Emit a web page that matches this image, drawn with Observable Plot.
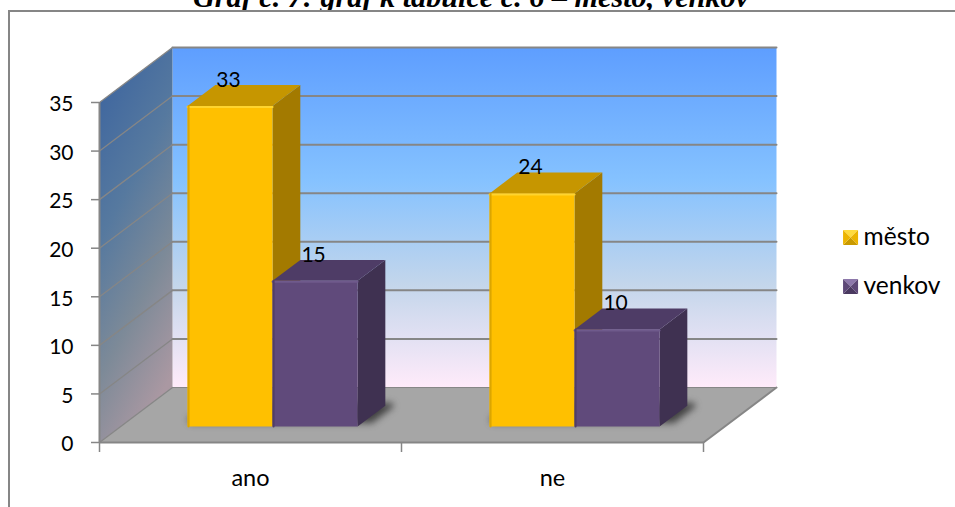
<!DOCTYPE html>
<html>
<head>
<meta charset="utf-8">
<script src="https://cdn.jsdelivr.net/npm/d3@7"></script>
<script src="https://cdn.jsdelivr.net/npm/@observablehq/plot@0.6"></script>
<style>
  html, body { margin: 0; padding: 0; background: #fff; overflow: hidden; width: 955px; height: 507px; }
  #frame { position: absolute; left: 8px; top: 10px; right: -4px; bottom: -4px; border: 2px solid #868686; z-index: 2; pointer-events: none; border-right: none; border-bottom: none; }
  #titleBox { position: absolute; left: 0; top: 0; width: 955px; height: 10px; overflow: hidden; }
  #title { position: absolute; left: 0; width: 942px; top: -20px; text-align: center; font: italic bold 30.2px "Liberation Serif", serif; color: #000; white-space: nowrap; }
  #chart { position: absolute; left: 0; top: 0; }
</style>
</head>
<body>
<div id="titleBox"><div id="title">Graf č. 7: graf k tabulce č. 6 – město, venkov</div></div>
<div id="chart"></div>
<div id="frame"></div>
<script>
const categories = ["ano", "ne"];
const seriesNames = ["město", "venkov"];
const mesto = [33, 24];
const venkov = [15, 10];
const yTicks = [0, 5, 10, 15, 20, 25, 30, 35];

const styles = [
  {front: "#ffc000", side: "#a37a00", top: "#c69600", hi: "#ffd42e", edge: "#dca600", lt: "#ffdb3d", dk: "#c99a00", mid: "#ecb400"},
  {front: "#604a7b", side: "#3f3151", top: "#4e3c66", hi: "#6f5a8c", edge: "#503d68", lt: "#8d78ab", dk: "#4a3960", mid: "#5d4877"}
];

// Oblique projection: a depth t in [0,1] moves a point right and up, in data units.
const DU = 73 / 302, DV = 5.66;
const at = (u, v, t) => [u + DU * t, v + DV * t];
const T0 = 0.29, T1 = 0.67, BW = 0.2815, CX = 0.503;

const poly = (pts, o) => Plot.line([...pts, pts[0]], {x: d => d[0], y: d => d[1], stroke: "none", curve: "linear-closed", ...o});

const defs = () => {
  const s = d3.create("svg:defs");
  const grad = (id, x1, y1, x2, y2, stops) => {
    const g = s.append("linearGradient").attr("id", id)
      .attr("x1", x1).attr("y1", y1).attr("x2", x2).attr("y2", y2);
    stops.forEach(([o, c]) => g.append("stop").attr("offset", o).attr("stop-color", c));
  };
  grad("backWall", 0, 0, 0, 1, [[0, "#5e9eff"], [0.39, "#85c2ff"], [0.7, "#c4d6eb"], [1, "#ffebfa"]]);
  grad("leftWall", 0.15, 0, 0.5, 1, [[0, "#3c649f"], [0.39, "#56799f"], [0.7, "#7d8a98"], [1, "#aa98a2"]]);
  return s.node();
};

const marks = [defs];

// walls and floor
marks.push(poly([at(0, 0, 1), at(2, 0, 1), at(2, 35, 1), at(0, 35, 1)], {fill: "url(#backWall)"}));
marks.push(poly([at(0, 0, 0), at(0, 0, 1), at(0, 35, 1), at(0, 35, 0)], {fill: "url(#leftWall)"}));
marks.push(poly([at(0, 0, 0), at(2, 0, 0), at(2, 0, 1), at(0, 0, 1)], {fill: "#a6a6a6"}));

// grid lines on the walls
yTicks.forEach(v => {
  marks.push(Plot.line([at(0, v, 1), at(2, v, 1)], {x: d => d[0], y: d => d[1], stroke: "#868686", strokeWidth: v === 0 ? 1 : 2}));
  marks.push(Plot.line([at(0, v, 0), at(0, v, 1)], {x: d => d[0], y: d => d[1], stroke: "#868686", strokeWidth: 1.3}));
});
marks.push(Plot.line([at(2, 0, 0), at(2, 0, 1)], {x: d => d[0], y: d => d[1], stroke: "#868686", strokeWidth: 2}));

// soft shadows below each cluster
categories.forEach((c, i) => {
  const a = i + CX - BW - 0.015, b = i + CX + BW + 0.015, t = T0 + 0.12;
  marks.push(poly([at(a, 0, t), at(b, 0, t), at(b, 0, T1), at(a, 0, T1)],
    {fill: "#333", stroke: "#333", strokeWidth: 8, fillOpacity: 0.8, strokeOpacity: 0.6, imageFilter: "blur(3px)"}));
});

// axes
marks.push(Plot.ruleX([0], {y1: 0, y2: 35, stroke: "#868686", strokeWidth: 2}));
marks.push(Plot.ruleY([0], {x1: 0, x2: 2, stroke: "#868686", strokeWidth: 2}));
marks.push(Plot.axisY({ticks: yTicks, tickSize: 8, tickFormat: () => "", stroke: "#868686", strokeWidth: 1.5, label: null}));
marks.push(Plot.axisY({ticks: yTicks, tickSize: 0, tickPadding: 26, fontSize: 21, fill: "#000", label: null, dy: 2}));
marks.push(Plot.axisX({ticks: [0, 1, 2], tickSize: 10, tickFormat: () => "", stroke: "#868686", strokeWidth: 1.5, label: null}));
marks.push(Plot.axisX({ticks: categories.map((c, i) => i + 0.5), tickSize: 0, tickPadding: 27, fontSize: 23.5, fill: "#000",
  tickFormat: d => categories[d - 0.5], label: null}));

// bars
[mesto, venkov].forEach((vals, s) => {
  const st = styles[s];
  vals.forEach((v, i) => {
    const a = i + CX - BW + s * BW, b = a + BW;
    marks.push(poly([at(b, 0, T0), at(b, 0, T1), at(b, v, T1), at(b, v, T0)], {fill: st.side}));
    marks.push(poly([at(a, v, T0), at(b, v, T0), at(b, v, T1), at(a, v, T1)], {fill: st.top}));
    marks.push(poly([at(a, 0, T0), at(b, 0, T0), at(b, v, T0), at(a, v, T0)], {fill: st.front}));
    marks.push(Plot.line([at(a, v, T0), at(b, v, T0)], {x: d => d[0], y: d => d[1], stroke: st.hi, strokeWidth: 2, dy: 1}));
    marks.push(Plot.line([at(a, 0, T0), at(a, v, T0)], {x: d => d[0], y: d => d[1], stroke: st.edge, strokeWidth: 2, dx: 1}));
  });
});

// value labels
[mesto, venkov].forEach((vals, s) => {
  const rows = vals.map((v, i) => {
    const [x, y] = at(i + CX - BW / 2 + s * BW - 0.005, v, T0);
    return {x, y, v};
  });
  marks.push(Plot.text(rows, {x: "x", y: "y", text: d => String(d.v), dy: -26, fontSize: 21, fill: "#000"}));
});

// legend (pyramid-shaped keys, like the bevelled originals)
const facet = (pts) => ({draw(ctx, size) {
  const r = Math.sqrt(size / Math.PI);
  pts.forEach(([x, y], i) => i ? ctx.lineTo(x * r, y * r) : ctx.moveTo(x * r, y * r));
  ctx.closePath();
}});
const facetTop = facet([[-1, -1], [1, -1], [0, 0]]);
const facetBottom = facet([[-1, 1], [1, 1], [0, 0]]);
const facetLeft = facet([[-1, -1], [-1, 1], [0, 0]]);
const facetRight = facet([[1, -1], [1, 1], [0, 0]]);
const legendU = 2.487, legendTextU = 2.53, legendV = [21.1, 16.05];
seriesNames.forEach((name, s) => {
  const st = styles[s];
  const row = [{x: legendU, y: legendV[s]}];
  [[facetTop, st.lt], [facetBottom, st.dk], [facetLeft, st.mid], [facetRight, st.mid]].forEach(([symbol, fill]) =>
    marks.push(Plot.dot(row, {x: "x", y: "y", r: 7.5, symbol, fill, stroke: null})));
  marks.push(Plot.text([{x: legendTextU, y: legendV[s], name}], {x: "x", y: "y", text: "name", textAnchor: "start", fontSize: 24.5, fill: "#000"}));
});

const chart = Plot.plot({
  width: 955, height: 507,
  marginLeft: 99, marginRight: 252, marginTop: 102, marginBottom: 65,
  x: {type: "linear", domain: [0, 2]},
  y: {type: "linear", domain: [0, 35]},
  style: {background: "transparent", fontFamily: "Lato, sans-serif", overflow: "visible"},
  marks
});
document.getElementById("chart").appendChild(chart);
</script>
</body>
</html>
